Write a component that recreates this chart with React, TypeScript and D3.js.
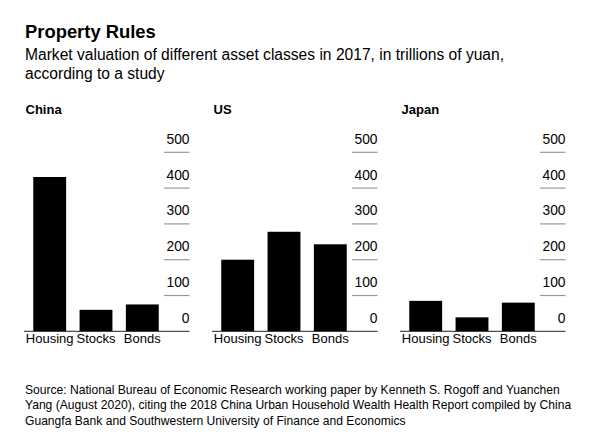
import React from "react";
import * as d3 from "d3";

const categories = ["Housing", "Stocks", "Bonds"];
const countries = ["China", "US", "Japan"];
const chinaValues = [431, 60, 75];
const usValues = [200, 278, 243];
const japanValues = [85, 39, 80];
const tickValues = [0, 100, 200, 300, 400, 500];

const title = "Property Rules";
const subtitleLines = [
  "Market valuation of different asset classes in 2017, in trillions of yuan,",
  "according to a study",
];
const sourceLines = [
  "Source: National Bureau of Economic Research working paper by Kenneth S. Rogoff and Yuanchen",
  "Yang (August 2020), citing the 2018 China Urban Household Wealth Health Report compiled by China",
  "Guangfa Bank and Southwestern University of Finance and Economics",
];

const FONT = "'Liberation Sans', Arial, Helvetica, sans-serif";

export default function App() {
  const width = 600;
  const height = 441;
  const seriesList = [chinaValues, usValues, japanValues];
  const panelX = [24, 212, 400];
  const y = d3.scaleLinear().domain([0, 500]).range([331.3, 152.3]);

  return (
    <svg
      width={width}
      height={height}
      style={{ position: "absolute", left: 0, top: 0, background: "#fff" }}
      fontFamily={FONT}
    >
      <rect x={0} y={0} width={width} height={height} fill="#fff" />
      <text x={25} y={37.5} fontSize={18.4} fontWeight="bold" fill="#000">
        {title}
      </text>
      {subtitleLines.map((l, i) => (
        <text key={i} x={25} y={59.5 + i * 19.2} fontSize={15.6} fill="#000">
          {l}
        </text>
      ))}
      {seriesList.map((vals, pi) => {
        const x0 = panelX[pi];
        const x = d3
          .scaleBand()
          .domain(categories)
          .range([x0, x0 + 144])
          .paddingInner(0.29)
          .paddingOuter(0.2);
        const tickX0 = x0 + 140;
        const tickX1 = x0 + 165.5;
        return (
          <g key={pi}>
            <text x={x0 + 1.5} y={114} fontSize={13} fontWeight="bold" fill="#000">
              {countries[pi]}
            </text>
            {tickValues.map((t) => (
              <g key={t}>
                {t > 0 && (
                  <line
                    x1={tickX0}
                    x2={tickX1}
                    y1={y(t)}
                    y2={y(t)}
                    stroke="#999"
                    strokeWidth={1.2}
                  />
                )}
                <text
                  x={tickX1}
                  y={y(t) - 8.6}
                  fontSize={13.8}
                  textAnchor="end"
                  fill="#000"
                >
                  {t}
                </text>
              </g>
            ))}
            {vals.map((v, i) => (
              <rect
                key={i}
                x={x(categories[i])}
                y={y(v)}
                width={x.bandwidth()}
                height={y(0) - y(v)}
                fill="#000"
              />
            ))}
            <line
              x1={x0}
              x2={tickX1}
              y1={y(0)}
              y2={y(0)}
              stroke="#222"
              strokeWidth={1}
            />
            {categories.map((c) => (
              <text
                key={c}
                x={(x(c) as number) + x.bandwidth() / 2}
                y={343}
                fontSize={13}
                textAnchor="middle"
                fill="#000"
              >
                {c}
              </text>
            ))}
          </g>
        );
      })}
      {sourceLines.map((l, i) => (
        <text key={i} x={25} y={393.5 + i * 15.5} fontSize={12.1} fill="#000">
          {l}
        </text>
      ))}
    </svg>
  );
}
